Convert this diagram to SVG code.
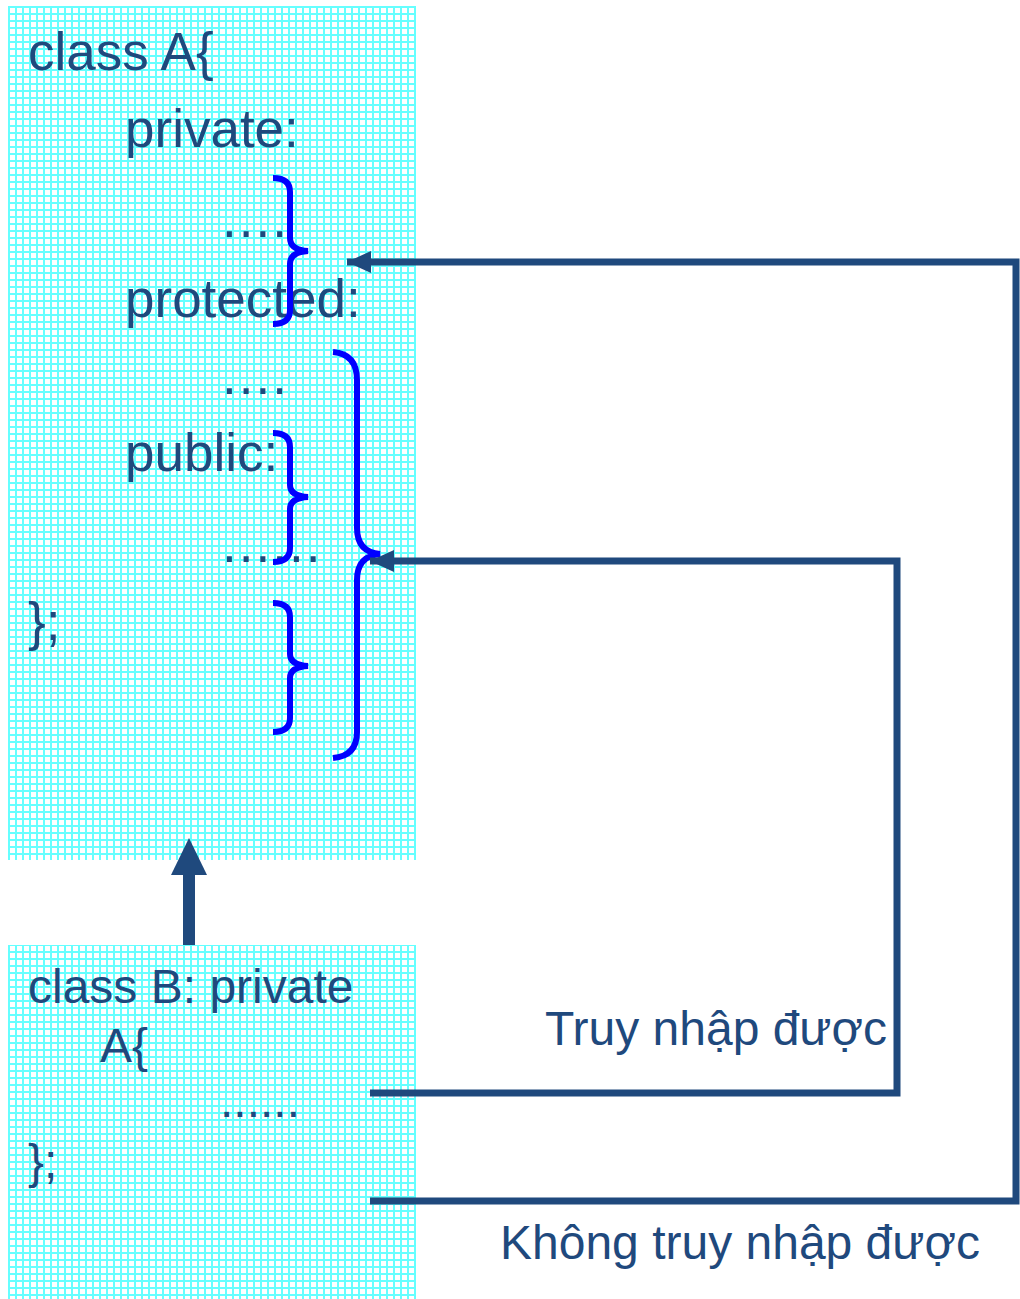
<svg xmlns="http://www.w3.org/2000/svg" width="1020" height="1299" viewBox="0 0 1020 1299">
<defs>
<pattern id="grid" x="8" y="6" width="7" height="7" patternUnits="userSpaceOnUse">
<rect width="7" height="7" fill="#ffffff"/>
<rect x="0" y="0" width="7" height="2" fill="#66ffff"/>
<rect x="0" y="0" width="2" height="7" fill="#66ffff"/>
</pattern>
<marker id="ah" markerUnits="userSpaceOnUse" markerWidth="26" markerHeight="24" refX="24" refY="12" orient="auto">
<path d="M0,1 L24,12 L0,23 Z" fill="#1f497d"/>
</marker>
</defs>
<style>
text{font-family:"Liberation Sans",Arial,sans-serif;fill:#1f497d}
.a{font-size:53px}
.b{font-size:48px}
.l{font-size:48px}
.d{letter-spacing:2px}
.br{fill:none;stroke:#0000ff;stroke-width:6;stroke-linecap:butt}
.c{fill:none;stroke:#1f497d;stroke-width:7}
</style>
<g id="classA">
<rect x="8" y="6" width="408" height="854" fill="url(#grid)"/>
<text class="a" x="28" y="70">class A{</text>
<text class="a" x="125" y="147">private:</text>
<text class="a d" x="222" y="237">....</text>
<text class="a" x="125" y="317">protected:</text>
<text class="a d" x="222" y="394">....</text>
<text class="a" x="125" y="471">public:</text>
<text class="a d" x="222" y="562">......</text>
<text class="a" x="28" y="640">};</text>
</g>
<g id="classB">
<rect x="8" y="945" width="408" height="354" fill="url(#grid)"/>
<text class="b" x="28" y="1003">class B: private</text>
<text class="b" x="100" y="1062">A{</text>
<text class="b" x="220" y="1117">......</text>
<text class="b" x="28" y="1178">};</text>
</g>
<g id="braces">
<path class="br" d="M273,178 Q290,178 290,192 L290,238 Q290,250 308,251 Q290,252 290,264 L290,310 Q290,324 273,324"/>
<path class="br" d="M333,352 Q357,354 357,380 L357,528 Q357,552 380,554 Q357,556 357,580 L357,732 Q357,756 333,758"/>
<path class="br" d="M273,433 Q290,433 290,447 L290,485 Q290,496 308,497 Q290,498 290,509 L290,548 Q290,562 273,562"/>
<path class="br" d="M273,603 Q290,603 290,617 L290,654 Q290,665 308,666 Q290,667 290,678 L290,718 Q290,732 273,732"/>
</g>
<g id="connectors">
<path class="c" d="M370,1201 L1016,1201 L1016,262 L347,262" marker-end="url(#ah)"/>
<path class="c" d="M370,1093 L897,1093 L897,561 L370,561" marker-end="url(#ah)"/>
<rect x="183" y="873" width="12" height="72" fill="#1f497d"/>
<path d="M171,875 L189,838 L207,875 Z" fill="#1f497d"/>
</g>
<g id="labels">
<text class="l" x="545" y="1045">Truy nhập được</text>
<text class="l" x="500" y="1259">Không truy nhập được</text>
</g>
</svg>
